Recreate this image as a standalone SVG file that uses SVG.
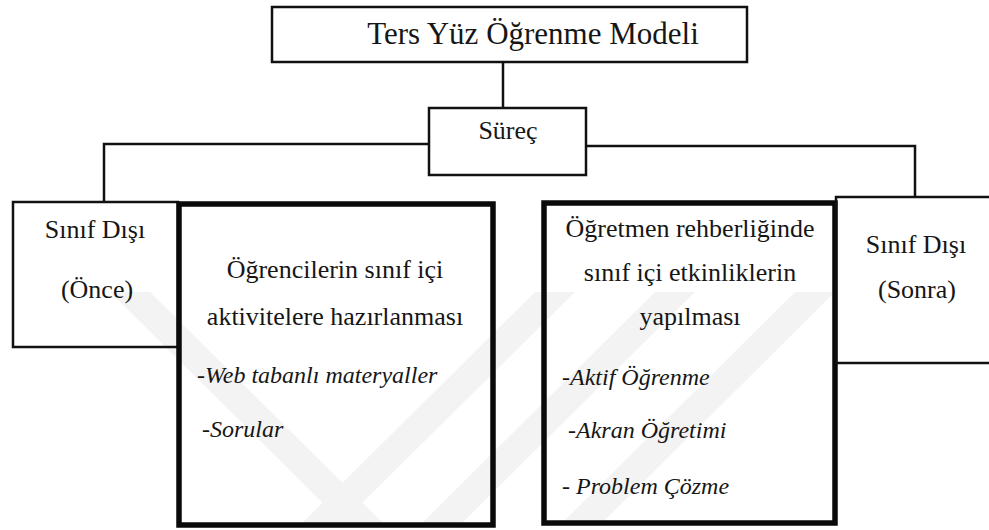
<svg xmlns="http://www.w3.org/2000/svg" width="989" height="530" viewBox="0 0 989 530">
<style>
.t{font-family:"Liberation Serif","Times New Roman",serif;fill:#161616;font-size:26px}
.title{font-size:31px}
.c{text-anchor:middle}
.i{font-style:italic;font-size:24px}
.box{fill:none;stroke:#111;stroke-width:2.5}
.big{fill:none;stroke:#0a0a0a;stroke-width:5.5}
.ln{fill:none;stroke:#111;stroke-width:2.5}
.wm{fill:#f3f3f3}
</style>
<rect width="989" height="530" fill="#fff"/>
<g id="watermark">
<polygon class="wm" points="110,292 150,292 385,525 345,525"/>
<polygon class="wm" points="300,525 340,525 575,292 535,292"/>
<polygon class="wm" points="420,525 460,525 695,292 655,292"/>
<polygon class="wm" points="560,525 600,525 835,292 795,292"/>
</g>
<g id="connectors">
<line class="ln" x1="503" y1="62" x2="503" y2="108" stroke-width="3.5"/>
<polyline class="ln" points="429,144 104,144 104,202"/>
<polyline class="ln" points="586,146 915,146 915,197"/>
</g>
<g id="title">
<rect class="box" x="272" y="7" width="475" height="55"/>
<text class="t c title" x="533" y="44">Ters Yüz Öğrenme Modeli</text>
</g>
<g id="surec">
<rect class="box" x="429" y="108" width="157" height="67" stroke-width="3"/>
<text class="t c" x="508" y="139">Süreç</text>
</g>
<g id="sinif-disi-once">
<rect class="box" x="13" y="202" width="165" height="145" stroke-width="3"/>
<text class="t c" x="95" y="238">Sınıf Dışı</text>
<text class="t c" x="97" y="298">(Önce)</text>
</g>
<g id="hazirlanma">
<rect class="big" x="179" y="204" width="314" height="321"/>
<text class="t c" x="335" y="278">Öğrencilerin sınıf içi</text>
<text class="t c" x="335" y="325">aktivitelere hazırlanması</text>
<text class="t i" x="197" y="383">-Web tabanlı materyaller</text>
<text class="t i" x="202" y="437">-Sorular</text>
</g>
<g id="etkinlikler">
<rect class="big" x="544" y="203" width="291" height="320"/>
<text class="t c" x="690" y="237">Öğretmen rehberliğinde</text>
<text class="t c" x="690" y="281">sınıf içi etkinliklerin</text>
<text class="t c" x="690" y="325">yapılması</text>
<text class="t i" x="562" y="385">-Aktif Öğrenme</text>
<text class="t i" x="568" y="438">-Akran Öğretimi</text>
<text class="t i" x="562" y="494">- Problem Çözme</text>
</g>
<g id="sinif-disi-sonra">
<polyline class="box" points="995,197 836,197 836,363 995,363" stroke-width="3"/>
<text class="t c" x="916" y="253">Sınıf Dışı</text>
<text class="t c" x="917" y="298">(Sonra)</text>
</g>
</svg>
